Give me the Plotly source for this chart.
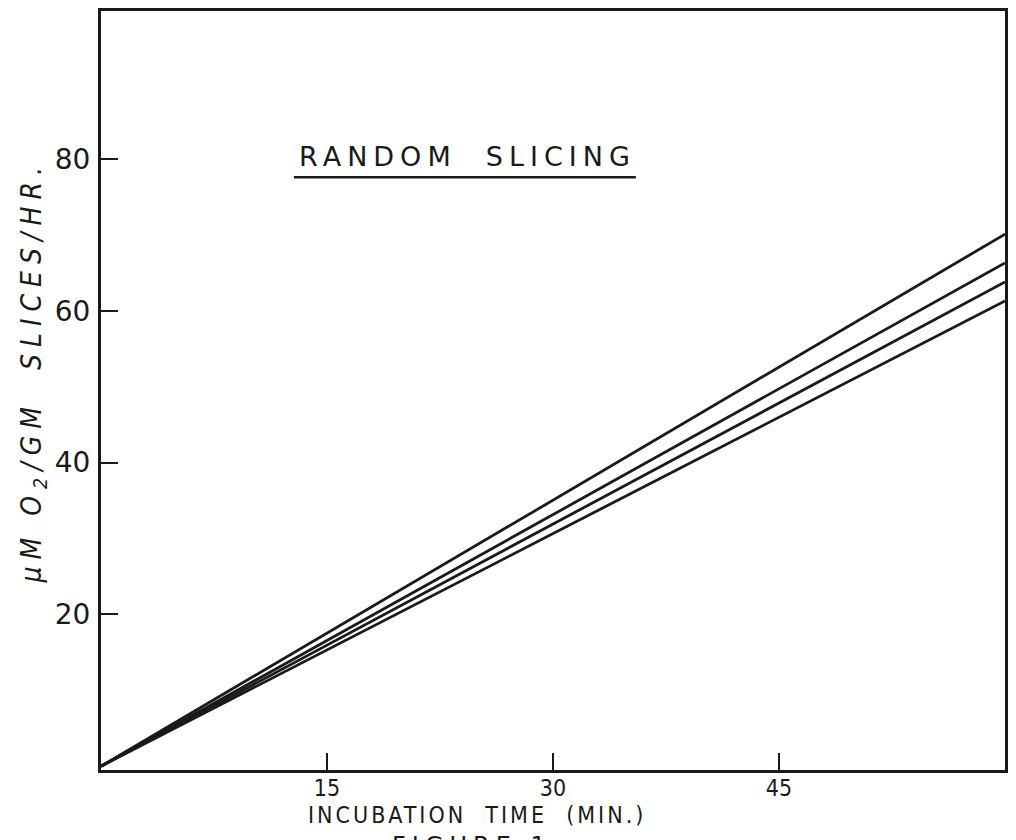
import plotly.graph_objects as go

# Data (straight lines from origin)
time_min = [0, 60]
series_a = [0, 70.1]
series_b = [0, 66.3]
series_c = [0, 63.8]
series_d = [0, 61.3]
x_ticks = [15, 30, 45]
y_ticks = [20, 40, 60, 80]

fig = go.Figure()
for ys in (series_a, series_b, series_c, series_d):
    fig.add_trace(go.Scatter(x=time_min, y=ys, mode="lines",
                             line=dict(color="#1a1a1a", width=2.8),
                             showlegend=False, hoverinfo="skip"))

fig.update_layout(
    width=1016, height=840,
    margin=dict(l=101, r=8, t=10, b=70),
    paper_bgcolor="white", plot_bgcolor="white",
    font=dict(family="DejaVu Sans", color="#1a1a1a"),
)
fig.update_xaxes(range=[0, 60], tickvals=x_ticks, ticktext=[str(v) for v in x_ticks],
                 ticks="inside", ticklen=17, tickwidth=2, tickcolor="#1a1a1a",
                 showline=True, linewidth=3, linecolor="#1a1a1a", mirror=True,
                 showgrid=False, zeroline=False,
                 tickfont=dict(family="Liberation Sans Narrow, DejaVu Sans Condensed", size=23),
                 ticklabelstandoff=-5)
fig.update_yaxes(range=[-0.5, 99.5], tickvals=y_ticks, ticktext=[str(v) for v in y_ticks],
                 ticks="inside", ticklen=17, tickwidth=2, tickcolor="#1a1a1a",
                 showline=True, linewidth=3, linecolor="#1a1a1a", mirror=True,
                 showgrid=False, zeroline=False,
                 tickfont=dict(family="DejaVu Sans", size=28),
                 ticklabelstandoff=2)

# x-axis title
fig.add_annotation(xref="paper", yref="paper", x=0.416, y=-0.04, yanchor="top",
                   showarrow=False,
                   text="<span style='letter-spacing:3px'>INCUBATION  TIME  (MIN.)</span>",
                   font=dict(family="Liberation Sans Narrow, DejaVu Sans Condensed", size=23))
# y-axis title
fig.add_annotation(xref="paper", yref="paper", x=-0.075, xanchor="center",
                   y=0.524, textangle=-90,
                   showarrow=False,
                   text="<span style='letter-spacing:7px'><i>μM O<sub>2</sub>/GM  SLICES/HR.</i></span>",
                   font=dict(family="DejaVu Sans Condensed", size=28))
# panel title with underline
fig.add_annotation(xref="x", yref="y", x=24.3, y=80.3, showarrow=False,
                   text="<span style='letter-spacing:6px'>RANDOM  SLICING</span>",
                   font=dict(family="DejaVu Sans", size=27))
fig.add_shape(type="line", xref="x", yref="y", x0=12.8, x1=35.5, y0=77.6, y1=77.6,
              line=dict(color="#1a1a1a", width=2.5))
# cut-off caption at the bottom
fig.add_annotation(xref="paper", yref="paper", x=0.41, y=-0.079, yanchor="top",
                   showarrow=False,
                   text="<span style='letter-spacing:6px'>FIGURE 1</span>",
                   font=dict(family="DejaVu Sans", size=24))

fig.write_html("out.html")
